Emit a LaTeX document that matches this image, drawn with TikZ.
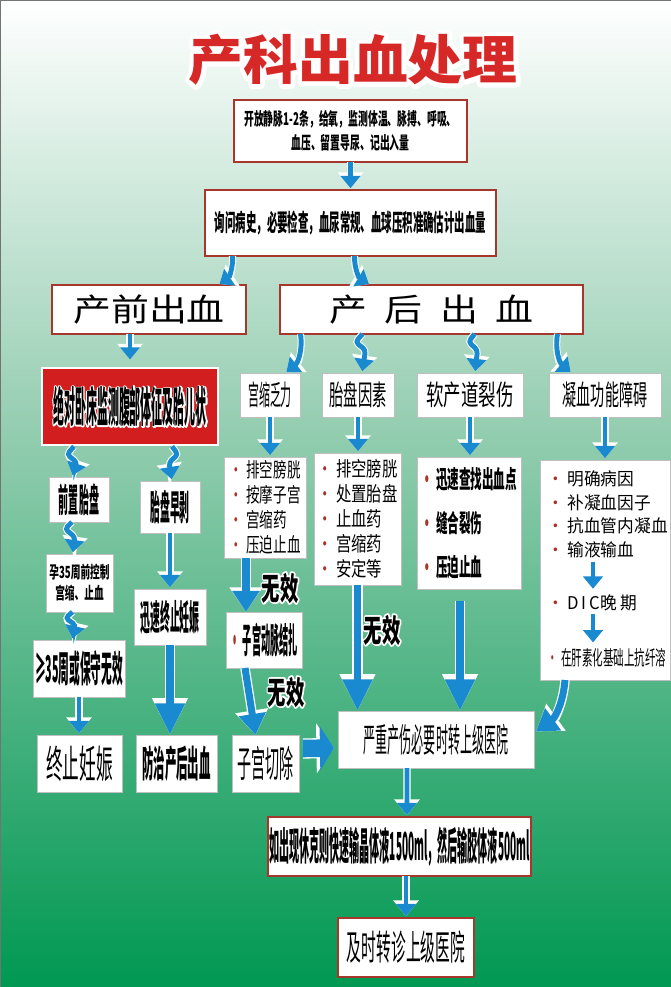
\documentclass[tikz,border=0pt]{standalone}
\usepackage{fontspec}
\setmainfont{Noto Sans CJK SC}
\usetikzlibrary{arrows.meta}
\definecolor{bgmid}{RGB}{150,206,178}
\definecolor{bggreen}{RGB}{0,152,82}
\definecolor{frame}{RGB}{165,55,45}
\definecolor{flow}{RGB}{25,138,208}
\definecolor{titlered}{RGB}{215,40,40}
\definecolor{alarm}{RGB}{210,30,30}
\definecolor{dotred}{RGB}{170,50,40}
\newcommand\cnf[3]{\addfontfeature{FakeStretch=#3}\fontsize{#1}{#2}\selectfont}
\newcommand\dt{{\color{dotred}\textbullet}\hspace{2pt}}
% white rim behind a text: a stroked copy first, then the filled text
\newcommand\halo[2]{\leavevmode\rlap{\special{pdf:literal direct 1 j #1 w 1 1 1 RG 1 Tr}#2\special{pdf:literal direct 0 Tr}}#2}

\begin{document}
\begin{tikzpicture}[
        x={(0.02cm,0cm)},
        y={(0cm,-0.02cm)},
        sz/.style 2 args={minimum width=#1*0.02cm, minimum height=#2*0.02cm},
        head/.style={rectangle, draw=frame, fill=white, line width=0.9pt, inner sep=0pt, outer sep=0pt},
        card/.style={rectangle, draw=black!25, fill=white, line width=0.5pt, inner sep=0pt, outer sep=0pt},
        list/.style={card, align=left},
        wuxiao/.style={font=\bfseries\cnf{18}{20}{0.58}},
        arr/.style={-{Triangle[width=11pt,length=7pt]}, line width=2.8pt, flow, shorten >=1pt,
          preaction={draw=white, line width=4pt, -{Triangle[width=14pt,length=9pt]}}},
        zig/.style={arr, rounded corners=2pt},
        midarr/.style={-{Triangle[width=15pt,length=12pt]}, line width=4pt, flow,
          preaction={draw=white, line width=5.4pt, -{Triangle[width=18pt,length=14pt]}}},
        bigarr/.style={-{Triangle[width=16pt,length=18pt]}, line width=4.5pt, flow,
          preaction={draw=white, line width=6pt, -{Triangle[width=19pt,length=21pt]}}},
        blockarr/.style={-{Triangle[width=25pt,length=8pt]}, line width=10pt, flow,
          preaction={draw=white, line width=11.5pt, -{Triangle[width=28pt,length=10pt]}}},
        ]
        \useasboundingbox (0,0) rectangle (671,987);
        \shade[top color=white, bottom color=bgmid] (0,0) rectangle (671,420);
        \shade[top color=bgmid, bottom color=bggreen] (0,420) rectangle (671,987);
        \draw[black!55, line width=1pt] (0.5,987) -- (0.5,0.5) -- (671,0.5);

        \node(title)[font=\bfseries\cnf{30}{32}{1.04}, text=titlered] at (353,60) {\halo{5}{产科出血处理}};

        \node(b1)[head, sz={233}{62}, align=center, font=\bfseries\cnf{10}{13.6}{0.56}] at (350.5,131) {开放静脉1-2条，给氧，监测体温、脉搏、呼吸、\\血压、留置导尿、记出入量};
        \node(b2)[head, sz={291}{66}, font=\bfseries\cnf{13.5}{16}{0.44}] at (350.5,223) {询问病史，必要检查，血尿常规、血球压积准确估计出血量};
        \node(pre)[head, sz={194}{49}, font=\cnf{18}{20}{1.2}] at (149,309.5) {产前出血};
        \node(post)[head, sz={303}{49}, font=\cnf{18}{20}{1.2}] at (431.5,309.5) {产\hspace{10pt}后\hspace{10pt}出\hspace{10pt}血};

        % antepartum branch
        \node(red)[rectangle, draw=white, fill=alarm, line width=1.6pt, inner sep=0pt, sz={176}{77}, font=\bfseries\cnf{24}{26}{0.26}] at (130,406.5) {\halo{1.4}{绝对卧床监测腹部体征及胎儿状}};
        \node(qz)[card, sz={60}{45}, font=\bfseries\cnf{19}{21}{0.30}] at (79,499.5) {前置胎盘};
        \node(bo)[card, sz={60}{52}, font=\bfseries\cnf{20}{22}{0.28}] at (170,507) {胎盘早剥};
        \node(k35)[card, sz={67}{58}, align=center, font=\bfseries\cnf{9.5}{12}{0.58}] at (79.5,583) {孕35周前控制\\宫缩、止血};
        \node(jz)[card, sz={72}{56}, font=\bfseries\cnf{20}{22}{0.28}] at (170,617) {迅速终止妊娠};
        \node(g35)[card, sz={92}{57}, font=\bfseries\cnf{21}{23}{0.29}] at (79,668.5) {≥35周或保守无效};
        \node(zz)[card, sz={85}{57}, font=\cnf{22}{24}{0.43}] at (79.5,763.5) {终止妊娠};
        \node(fz)[card, sz={81}{57}, font=\bfseries\cnf{21}{23}{0.31}] at (176.5,763.5) {防治产后出血};

        % postpartum branch
        \node(gs)[card, sz={60}{44}, font=\cnf{16}{18}{0.39}] at (270,395) {宫缩乏力};
        \node(tp)[card, sz={72}{44}, font=\cnf{16}{18}{0.51}] at (358,395) {胎盘因素};
        \node(rc)[card, sz={106}{44}, font=\cnf{16}{18}{0.62}] at (470,395) {软产道裂伤};
        \node(nx)[card, sz={112}{44}, font=\cnf{16}{18}{0.5}] at (605,395) {凝血功能障碍};
        \node(l1)[list, sz={82}{101}, font=\cnf{11.5}{14.2}{0.67}] at (265,507.5) {\dt 排空膀胱\\\dt 按摩子宫\\\dt 宫缩药\\\dt 压迫止血};
        \node(l2)[list, sz={87}{132}, font=\cnf{11.5}{14.2}{0.76}] at (357.5,519) {\dt 排空膀胱\\\dt 处置胎盘\\\dt 止血药\\\dt 宫缩药\\\dt 安定等};
        \node(l3)[list, sz={104}{132}, font=\bfseries\cnf{14}{25}{0.47}] at (469,523) {\dt 迅速查找出血点\\\dt 缝合裂伤\\\dt 压迫止血};
        \node(l4)[card, sz={130}{220}] at (605,570) {};
        \node(l4a)[anchor=north west, align=left, inner sep=0pt, font=\cnf{10}{13.6}{0.95}] at ([shift={(7,10)}]l4.north west) {\dt 明确病因\\\dt 补凝血因子\\\dt 抗血管内凝血\\\dt 输液输血};
        \node(dic)[anchor=west, inner sep=0pt, font=\cnf{10}{12}{0.95}] at ([shift={(7,33)}]l4.west) {\dt D\,I\,C晚\,期};
        \node(gan)[anchor=west, inner sep=0pt, font=\cnf{11.5}{13}{0.52}] at ([shift={(7,88)}]l4.west) {\dt 在肝素化基础上抗纤溶};
        \node(jz2)[card, sz={76}{56}, font=\bfseries\cnf{20}{22}{0.26}] at (264,640) {\dt 子宫动脉结扎};
        \node(qc)[card, sz={67}{57}, font=\cnf{21}{23}{0.38}] at (265.5,763.5) {子宫切除};
        \node(yz)[card, sz={196}{57}, font=\cnf{19}{21}{0.36}] at (436,739.5) {严重产伤必要时转上级医院};
        \node(xk)[head, sz={263}{59}, font=\bfseries\cnf{22}{24}{0.26}] at (399.5,846.5) {如出现休克则快速输晶体液1500ml，然后输胶体液500ml};
        \node(fin)[head, sz={136}{59}, font=\cnf{20}{22}{0.42}] at (406,947.5) {及时转诊上级医院};

        \node(wx1)[wuxiao] at (280,588) {\halo{2}{无效}};
        \node(wx2)[wuxiao] at (286,692) {\halo{2}{无效}};
        \node(wx3)[wuxiao] at (382,630) {\halo{2}{无效}};

        % connectors
        \draw[arr] (b1.south) -- (b2.north);
        \draw[arr] ([shift={(-118,0)}]b2.south) to[bend left=30] ([shift={(69,0)}]pre.north);
        \draw[arr] ([shift={(4,0)}]b2.south) to[bend right=30] ([shift={(-61,0)}]post.north);
        \draw[arr, shorten >=4pt] (pre.south -| red.north) -- (red.north);
        \draw[zig] ([shift={(-56,0)}]red.south) -- ++(-7,8) -- ++(10,8) -- ([shift={(-7,0)}]qz.north);
        \draw[zig] ([shift={(42,0)}]red.south) -- ++(6,8) -- ++(-9,8) -- ([shift={(2,0)}]bo.north);
        \draw[zig] ([shift={(-7,0)}]qz.south) -- ++(-7,7) -- ++(10,8) -- ([shift={(-7,0)}]k35.north);
        \draw[zig] ([shift={(-7,0)}]k35.south) -- ++(-7,6) -- ++(10,7) -- ([shift={(-7,0)}]g35.north);
        \draw[arr] (g35.south) -- (g35.south |- zz.north);
        \draw[arr] (bo.south) -- (bo.south |- jz.north);
        \draw[bigarr] (jz.south) -- (jz.south |- fz.north);

        \draw[arr] ([shift={(-131,0)}]post.south) to[bend left=30] ([shift={(15,0)}]gs.north);
        \draw[zig] ([shift={(-69,0)}]post.south) -- ++(-7,8) -- ++(10,8) -- ([shift={(4,0)}]tp.north);
        \draw[zig] ([shift={(43,0)}]post.south) -- ++(-6,8) -- ++(9,8) -- ([shift={(5,0)}]rc.north);
        \draw[arr] ([shift={(126,0)}]post.south) to[bend right=30] ([shift={(-33,0)}]nx.north);
        \draw[arr] (gs.south) -- (gs.south |- l1.north);
        \draw[midarr] ([shift={(-19,0)}]l1.south) -- ([shift={(-18,0)}]jz2.north);
        \draw[midarr] ([shift={(-19,0)}]jz2.south) -- ([shift={(-10,0)}]qc.north);
        \draw[blockarr] ([shift={(4,-15)}]qc.east) -- ([shift={(-4,8.5)}]yz.west);
        \draw[arr] (tp.south) -- (tp.south |- l2.north);
        \draw[bigarr] (l2.south) -- (l2.south |- yz.north);
        \draw[arr] (rc.south) -- (rc.south |- l3.north);
        \draw[bigarr, shorten <=7pt] ([shift={(-9,0)}]l3.south) -- ([shift={(-9,0)}]l3.south |- yz.north);
        \draw[arr] (nx.south) -- (nx.south |- l4.north);
        \draw[arr] ([shift={(46,3)}]l4a.south west) -- ([shift={(46,-4)}]dic.north west);
        \draw[arr] ([shift={(46,3)}]dic.south west) -- ([shift={(46,-4)}]gan.north west);
        \draw[midarr] ([shift={(-40,0)}]l4.south) to[bend left=25] ([shift={(2,-8)}]yz.east);
        \draw[arr] ([shift={(-29,0)}]yz.south) -- ([shift={(7.5,0)}]xk.north);
        \draw[arr] (xk.south -| fin.north) -- (fin.north);
\end{tikzpicture}
\end{document}
